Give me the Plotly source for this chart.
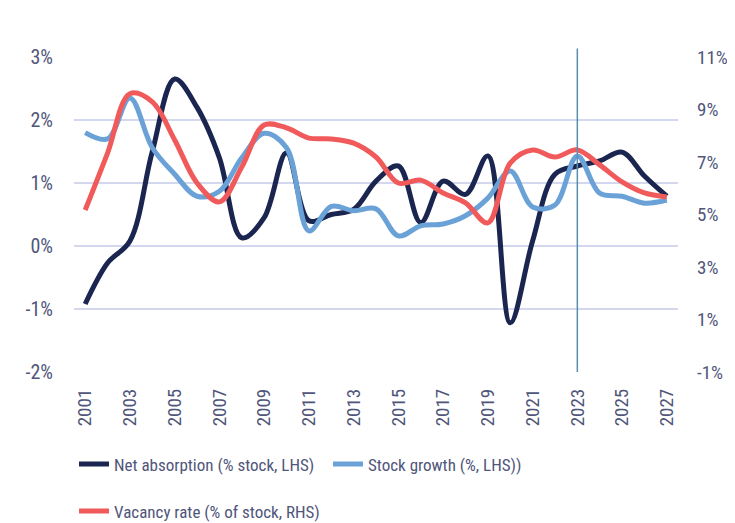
import plotly.graph_objects as go

years = list(range(2001, 2028))

net_absorption = [-0.92, -0.27, 0.08, 1.50, 2.65, 2.20, 1.40, 0.13, 0.45, 1.48,
                  0.40, 0.50, 0.58, 1.03, 1.27, 0.37, 1.03, 0.82, 1.43, -1.22,
                  0.08, 1.14, 1.27, 1.35, 1.49, 1.11, 0.79]

stock_growth = [1.80, 1.70, 2.35, 1.56, 1.14, 0.79, 0.87, 1.40, 1.79, 1.56,
                0.24, 0.63, 0.56, 0.59, 0.16, 0.32, 0.35, 0.48, 0.76, 1.19,
                0.62, 0.65, 1.43, 0.84, 0.79, 0.68, 0.73]

vacancy_rate = [5.17, 7.34, 9.60, 9.29, 7.84, 6.20, 5.48, 6.81, 8.41, 8.30,
                7.91, 7.88, 7.72, 7.19, 6.20, 6.31, 5.82, 5.44, 4.68, 6.96,
                7.46, 7.19, 7.46, 6.89, 6.24, 5.82, 5.67]

x_tick_years = list(range(2001, 2028, 2))
left_tickvals = [-2, -1, 0, 1, 2, 3]
left_ticktext = ["-2%", "-1%", "0%", "1%", "2%", "3%"]
right_tickvals = [-1, 1, 3, 5, 7, 9, 11]
right_ticktext = ["-1%", "1%", "3%", "5%", "7%", "9%", "11%"]
forecast_year = 2023

NAVY = "#1b2650"
LIGHT_BLUE = "#6aa2d8"
RED = "#f05a5b"
TEXT = "#50567a"
GRID = "#d3d8ee"
FONT = "Liberation Sans Narrow, Roboto Condensed, Arial Narrow, Roboto, sans-serif"

fig = go.Figure()
fig.add_trace(go.Scatter(x=years, y=net_absorption, name="Net absorption (% stock, LHS)",
                         mode="lines", line=dict(color=NAVY, width=5, shape="spline"),
                         legend="legend"))
fig.add_trace(go.Scatter(x=years, y=stock_growth, name="Stock growth (%, LHS))",
                         mode="lines", line=dict(color=LIGHT_BLUE, width=5, shape="spline"),
                         legend="legend"))
fig.add_trace(go.Scatter(x=years, y=vacancy_rate, name="Vacancy rate (% of stock, RHS)",
                         mode="lines", line=dict(color=RED, width=5, shape="spline"),
                         yaxis="y2", legend="legend2"))

fig.add_shape(type="line", xref="x", yref="paper", x0=forecast_year, x1=forecast_year,
              y0=0, y1=1.027, line=dict(color="#5a8db0", width=1.5), layer="above")

fig.update_layout(
    width=727, height=515,
    margin=dict(l=66, r=57, t=49, b=151, autoexpand=False),
    paper_bgcolor="white", plot_bgcolor="white",
    font=dict(family=FONT, size=19, color=TEXT),
    showlegend=True,
    xaxis=dict(range=[2000.5, 2027.5], tickvals=x_tick_years, tickangle=-90,
               showgrid=False, zeroline=False, showline=False, ticks="",
               automargin=False,
               tickfont=dict(size=19, color=TEXT), ticklabelstandoff=12),
    yaxis=dict(range=[-2, 3], tickvals=left_tickvals, ticktext=left_ticktext,
               showgrid=True, gridcolor=GRID, gridwidth=2, zeroline=False,
               showline=False, ticks="", ticklabelstandoff=20, automargin=False,
               tickfont=dict(size=20, color=TEXT)),
    yaxis2=dict(range=[-1, 11], tickvals=right_tickvals, ticktext=right_ticktext,
                overlaying="y", side="right", showgrid=False, zeroline=False,
                showline=False, ticks="", ticklabelstandoff=18, automargin=False,
                tickfont=dict(size=19, color=TEXT)),
    legend=dict(orientation="h", xref="container", yref="container",
                x=0.0908, y=0.1138, xanchor="left", yanchor="middle",
                entrywidth=209, entrywidthmode="pixels",
                font=dict(size=17, color=TEXT), bgcolor="rgba(0,0,0,0)"),
    legend2=dict(orientation="h", xref="container", yref="container",
                 x=0.0908, y=0.0223, xanchor="left", yanchor="middle",
                 font=dict(size=17, color=TEXT), bgcolor="rgba(0,0,0,0)"),
)

fig.write_html("out.html")
